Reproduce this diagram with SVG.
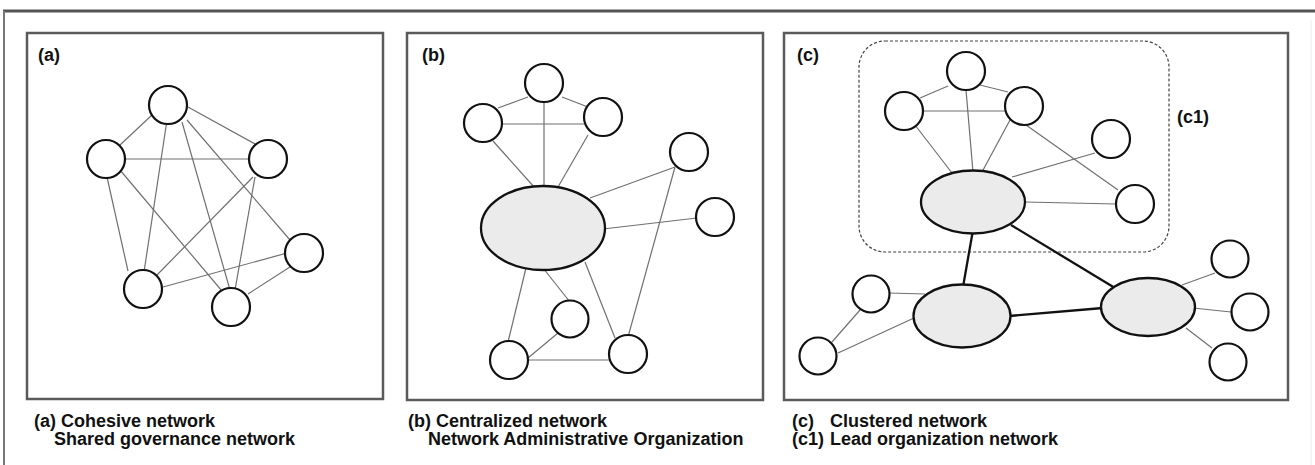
<svg xmlns="http://www.w3.org/2000/svg" width="1315" height="465" viewBox="0 0 1315 465">
  <defs>
    <style>
      .frame { fill: none; stroke: #5a5a5a; stroke-width: 2.5; }
      .edge { stroke: #707070; stroke-width: 1.2; fill: none; }
      .link { stroke: #111; stroke-width: 2.3; fill: none; }
      .node { fill: #fff; stroke: #111; stroke-width: 2.2; }
      .hub { fill: #ebebeb; stroke: #111; stroke-width: 2.3; }
      .cluster { fill: none; stroke: #444; stroke-width: 1.2; stroke-dasharray: 3 2; }
      .tag { font-family: "Liberation Sans", Arial, sans-serif; font-weight: bold; font-size: 18px; fill: #111; }
      .cap { font-family: "Liberation Sans", Arial, sans-serif; font-weight: bold; font-size: 18px; fill: #111; }
    </style>
  </defs>

  <rect width="1315" height="465" fill="#fff"/>

  <!-- outer frame -->
  <line x1="3" y1="11" x2="1315" y2="11" stroke="#555" stroke-width="3"/>
  <line x1="4" y1="11" x2="4" y2="465" stroke="#777" stroke-width="2"/>
  <line x1="1311" y1="20" x2="1311" y2="465" stroke="#ececec" stroke-width="1"/>

  <!-- panel frames -->
  <rect class="frame" x="27" y="33" width="356" height="366"/>
  <rect class="frame" x="407" y="33" width="356" height="367"/>
  <rect class="frame" x="784" y="33" width="504" height="367"/>
  <rect class="cluster" x="859" y="41" width="310" height="211" rx="26" ry="26"/>

  <!-- panel labels -->
  <text class="tag" x="38" y="61">(a)</text>
  <text class="tag" x="422" y="61">(b)</text>
  <text class="tag" x="797" y="61">(c)</text>
  <text class="tag" x="1177" y="123">(c1)</text>

  <!-- connectors -->
  <g id="connectors">
    <!-- (a) cohesive -->
    <line class="edge" x1="120" y1="145" x2="152" y2="115"/>
    <line class="edge" x1="188" y1="107" x2="257" y2="145"/>
    <line class="edge" x1="126" y1="159" x2="249" y2="159"/>
    <line class="edge" x1="167" y1="120" x2="144" y2="272"/>
    <line class="edge" x1="182" y1="122" x2="230" y2="290"/>
    <line class="edge" x1="187" y1="120" x2="290" y2="240"/>
    <line class="edge" x1="107" y1="177" x2="128" y2="271"/>
    <line class="edge" x1="120" y1="170" x2="222" y2="291"/>
    <line class="edge" x1="253" y1="177" x2="157" y2="275"/>
    <line class="edge" x1="255" y1="177" x2="235" y2="290"/>
    <line class="edge" x1="163" y1="287" x2="287" y2="253"/>
    <line class="edge" x1="248" y1="294" x2="293" y2="265"/>

    <!-- (b) centralized -->
    <line class="edge" x1="498" y1="108" x2="528" y2="97"/>
    <line class="edge" x1="562" y1="97" x2="588" y2="107"/>
    <line class="edge" x1="502" y1="124" x2="584" y2="124"/>
    <line class="edge" x1="544" y1="101" x2="544" y2="190"/>
    <line class="edge" x1="493" y1="141" x2="535" y2="188"/>
    <line class="edge" x1="588" y1="135" x2="558" y2="187"/>
    <line class="edge" x1="590" y1="198" x2="675" y2="167"/>
    <line class="edge" x1="603" y1="229" x2="697" y2="218"/>
    <line class="edge" x1="526" y1="268" x2="508" y2="342"/>
    <line class="edge" x1="543" y1="268" x2="570" y2="302"/>
    <line class="edge" x1="585" y1="262" x2="615" y2="338"/>
    <line class="edge" x1="675" y1="167" x2="628" y2="337"/>
    <line class="edge" x1="558" y1="333" x2="528" y2="358"/>
    <line class="edge" x1="528" y1="360" x2="610" y2="360"/>

    <!-- (c) clustered -->
    <line class="edge" x1="920" y1="98" x2="948" y2="86"/>
    <line class="edge" x1="980" y1="85" x2="1008" y2="92"/>
    <line class="edge" x1="923" y1="111" x2="1005" y2="111"/>
    <line class="edge" x1="966" y1="90" x2="973" y2="172"/>
    <line class="edge" x1="915" y1="125" x2="952" y2="173"/>
    <line class="edge" x1="1010" y1="120" x2="982" y2="172"/>
    <line class="edge" x1="1026" y1="125" x2="1118" y2="190"/>
    <line class="edge" x1="1012" y1="177" x2="1095" y2="153"/>
    <line class="edge" x1="1024" y1="202" x2="1116" y2="204"/>
    <line class="edge" x1="889" y1="293" x2="925" y2="294"/>
    <line class="edge" x1="860" y1="310" x2="832" y2="342"/>
    <line class="edge" x1="838" y1="353" x2="914" y2="318"/>
    <line class="edge" x1="1182" y1="285" x2="1215" y2="273"/>
    <line class="edge" x1="1193" y1="308" x2="1231" y2="312"/>
    <line class="edge" x1="1186" y1="328" x2="1212" y2="348"/>
    <line class="link" x1="973" y1="230" x2="963" y2="287"/>
    <line class="link" x1="1011" y1="225" x2="1115" y2="288"/>
    <line class="link" x1="1009" y1="316" x2="1103" y2="308"/>
  </g>

  <!-- (a) nodes -->
  <g id="a-top"><circle class="node" cx="168" cy="105" r="19"/></g>
  <g id="a-left"><circle class="node" cx="106" cy="159" r="19"/></g>
  <g id="a-right"><circle class="node" cx="268" cy="159" r="19"/></g>
  <g id="a-bottom-left"><circle class="node" cx="143" cy="289" r="19"/></g>
  <g id="a-bottom-mid"><circle class="node" cx="231" cy="307" r="19"/></g>
  <g id="a-right-low"><circle class="node" cx="304" cy="253" r="19"/></g>

  <!-- (b) nodes -->
  <g id="b-top"><circle class="node" cx="544" cy="83" r="19"/></g>
  <g id="b-upper-left"><circle class="node" cx="483" cy="123" r="19"/></g>
  <g id="b-upper-right"><circle class="node" cx="603" cy="117" r="19"/></g>
  <g id="b-right-top"><circle class="node" cx="689" cy="152" r="19"/></g>
  <g id="b-right-mid"><circle class="node" cx="715" cy="217" r="19"/></g>
  <g id="b-hub"><ellipse class="hub" cx="543" cy="228" rx="62" ry="42"/></g>
  <g id="b-small"><circle class="node" cx="570" cy="319" r="18.5"/></g>
  <g id="b-bottom-left"><circle class="node" cx="509" cy="360" r="19"/></g>
  <g id="b-bottom-right"><circle class="node" cx="628" cy="354" r="19"/></g>

  <!-- (c) nodes -->
  <g id="c-top"><circle class="node" cx="966" cy="71" r="19"/></g>
  <g id="c-upper-left"><circle class="node" cx="904" cy="111" r="19"/></g>
  <g id="c-upper-right"><circle class="node" cx="1024" cy="106" r="19"/></g>
  <g id="c-right-top"><circle class="node" cx="1111" cy="139" r="19"/></g>
  <g id="c-right-low"><circle class="node" cx="1135" cy="204" r="19"/></g>
  <g id="c-lead"><ellipse class="hub" cx="973" cy="202" rx="52" ry="31.5"/></g>
  <g id="c-hub-left"><ellipse class="hub" cx="962" cy="316" rx="48.5" ry="31.5"/></g>
  <g id="c-hub-right"><ellipse class="hub" cx="1148" cy="307" rx="47" ry="29"/></g>
  <g id="c-left-upper"><circle class="node" cx="871" cy="294" r="18.5"/></g>
  <g id="c-left-lower"><circle class="node" cx="818" cy="356" r="18.5"/></g>
  <g id="c-right-1"><circle class="node" cx="1230" cy="259" r="18.5"/></g>
  <g id="c-right-2"><circle class="node" cx="1250" cy="312" r="18.5"/></g>
  <g id="c-right-3"><circle class="node" cx="1228" cy="362" r="18.5"/></g>

  <!-- captions -->
  <g id="captions">
    <text class="cap" x="34" y="427">(a) Cohesive network</text>
    <text class="cap" x="54" y="445">Shared governance network</text>
    <text class="cap" x="408" y="427">(b) Centralized network</text>
    <text class="cap" x="428" y="445">Network Administrative Organization</text>
    <text class="cap" x="792" y="427">(c)</text>
    <text class="cap" x="830" y="427">Clustered network</text>
    <text class="cap" x="792" y="445">(c1)</text>
    <text class="cap" x="830" y="445">Lead organization network</text>
  </g>
</svg>
